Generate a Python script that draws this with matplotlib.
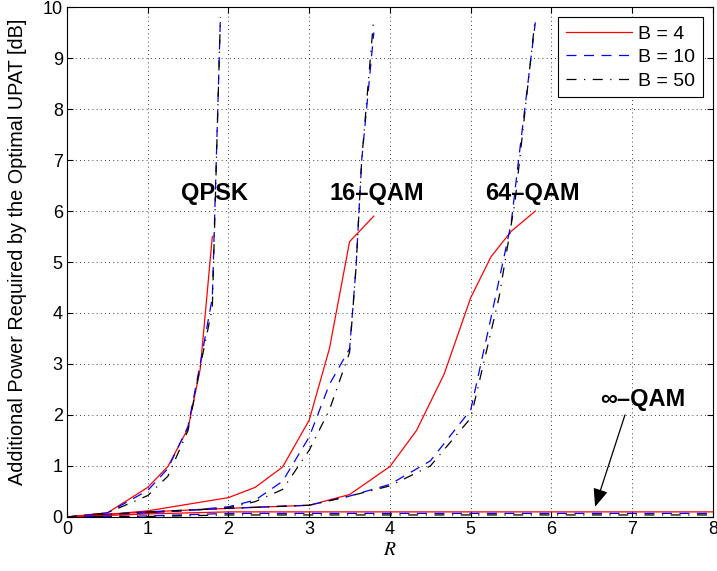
import numpy as np
import matplotlib
matplotlib.use("Agg")
import matplotlib.pyplot as plt

plt.rcParams['font.family'] = ['Liberation Sans', 'DejaVu Sans']
plt.rcParams['mathtext.fontset'] = 'stix'

# QPSK
qpsk_x4 = [0, 0.5, 1.0, 1.25, 1.5, 1.65, 1.8]
qpsk_y4 = [0, 0.08, 0.58, 0.99, 1.74, 2.9, 5.5]
qpsk_x10 = [0, 0.5, 0.75, 1.0, 1.25, 1.5, 1.65, 1.8, 1.9]
qpsk_y10 = [0, 0.08, 0.3, 0.52, 0.95, 1.78, 3.0, 4.3, 9.8]
qpsk_x50 = [0, 0.5, 1.0, 1.25, 1.5, 1.65, 1.8, 1.9]
qpsk_y50 = [0, 0.08, 0.42, 0.8, 1.7, 2.95, 4.1, 9.8]

# 16-QAM
q16_x4 = [0, 0.5, 1.0, 1.5, 2.0, 2.33, 2.67, 3.0, 3.25, 3.5, 3.8]
q16_y4 = [0, 0.05, 0.12, 0.25, 0.38, 0.58, 0.98, 1.9, 3.3, 5.4, 5.9]
q16_x10 = [0, 0.5, 1.0, 1.5, 2.0, 2.33, 2.67, 3.0, 3.25, 3.5, 3.58, 3.65, 3.8]
q16_y10 = [0, 0.03, 0.08, 0.13, 0.2, 0.33, 0.7, 1.57, 2.6, 3.3, 4.9, 7.0, 9.5]
q16_x50 = [0, 0.5, 1.0, 1.5, 2.0, 2.33, 2.67, 3.0, 3.25, 3.5, 3.58, 3.65, 3.8]
q16_y50 = [0, 0.03, 0.08, 0.13, 0.18, 0.3, 0.54, 1.31, 2.1, 3.23, 4.9, 7.0, 9.8]

# 64-QAM
q64_x4 = [0, 1, 2, 3, 3.5, 4, 4.33, 4.67, 5, 5.25, 5.5, 5.8]
q64_y4 = [0, 0.1, 0.17, 0.23, 0.44, 0.99, 1.7, 2.8, 4.3, 5.1, 5.6, 6.0]
q64_x10 = [0, 1, 2, 3, 3.5, 4, 4.5, 5, 5.25, 5.5, 5.6, 5.8]
q64_y10 = [0, 0.1, 0.17, 0.23, 0.41, 0.64, 1.1, 2.1, 3.9, 5.75, 7.1, 9.7]
q64_x50 = [0, 1, 2, 3, 3.5, 4, 4.5, 5, 5.35, 5.55, 5.8]
q64_y50 = [0, 0.1, 0.17, 0.23, 0.41, 0.61, 1.0, 1.94, 4.3, 6.2, 9.8]

# infinity-QAM
inf_x = [0, 1, 2, 8]
inf_y4 = [0, 0.06, 0.1, 0.1]
inf_y10 = [0, 0.02, 0.07, 0.07]
inf_y50 = [0, 0.01, 0.04, 0.04]

fig = plt.figure(figsize=(7.17, 5.71), dpi=100)
ax = fig.add_axes([0.0934, 0.0946, 0.9010, 0.8931])

lw = 0.9
s4 = dict(color='red', linestyle='-', linewidth=lw)
s10 = dict(color='blue', linestyle=(0, (8, 6)), linewidth=lw)
s50 = dict(color='black', linestyle=(0, (8, 6, 1, 6)), linewidth=lw)

ax.plot(qpsk_x4, qpsk_y4, label='B = 4', **s4)
ax.plot(qpsk_x10, qpsk_y10, label='B = 10', **s10)
ax.plot(qpsk_x50, qpsk_y50, label='B = 50', **s50)
ax.plot(q16_x4, q16_y4, **s4)
ax.plot(q16_x10, q16_y10, **s10)
ax.plot(q16_x50, q16_y50, **s50)
ax.plot(q64_x4, q64_y4, **s4)
ax.plot(q64_x10, q64_y10, **s10)
ax.plot(q64_x50, q64_y50, **s50)
ax.plot(inf_x, inf_y4, **s4)
ax.plot(inf_x, inf_y10, **s10)
ax.plot(inf_x, inf_y50, **s50)

ax.set_xlim(0, 8)
ax.set_ylim(0, 10)
ax.set_xticks(range(0, 9))
ax.set_yticks(range(0, 11))
ax.tick_params(direction='in', labelsize=13, top=True, right=True, length=4, pad=3)
ax.grid(True, color='black', linestyle=(0, (1, 4)), linewidth=0.6)
for sp in ax.spines.values():
    sp.set_linewidth(0.8)

ax.set_xlabel('$R$', fontsize=14, labelpad=3)
ax.set_ylabel('Additional Power Required by the Optimal UPAT [dB]', fontsize=14.3)
ax.yaxis.set_label_coords(-0.062, 0.52)

fw = dict(fontsize=17, fontweight='bold', ha='center', va='center')
ax.text(1.83, 6.35, 'QPSK', **fw)
ax.text(3.84, 6.35, '16\u2013QAM', **fw)
ax.text(5.77, 6.35, '64\u2013QAM', **fw)
ax.text(7.13, 2.31, '\u221e\u2013QAM', **fw)
ax.annotate('', xy=(6.54, 0.2), xytext=(6.91, 2.0),
            arrowprops=dict(arrowstyle='-|>,head_length=1.1,head_width=0.45',
                            color='black', linewidth=0.9, shrinkA=0, shrinkB=0))

leg = ax.legend(loc='upper right', bbox_to_anchor=(0.9845, 0.98), borderaxespad=0,
                fontsize=14, fancybox=False, framealpha=1, edgecolor='black',
                handlelength=3.4, borderpad=0.4, labelspacing=0.3, handletextpad=0.3)
leg.get_frame().set_linewidth(0.8)

fig.savefig('out.png', dpi=100)
